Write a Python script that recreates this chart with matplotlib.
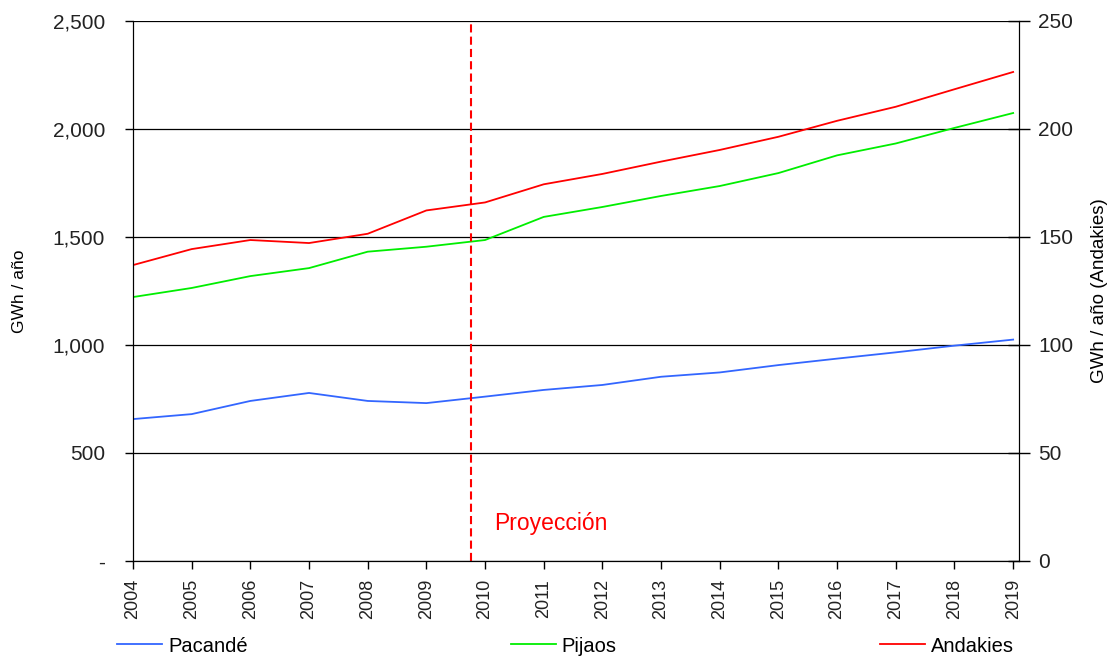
import numpy as np
import matplotlib
matplotlib.use("Agg")
import matplotlib.pyplot as plt
from matplotlib.ticker import FuncFormatter

plt.rcParams["font.family"] = ["Liberation Sans", "DejaVu Sans"]

# datos
anios = list(range(2004, 2020))
pacande = [657, 680, 741, 778, 741, 731, 761, 792, 815, 853, 873, 907, 937, 966, 997, 1025]
pijaos = [1222, 1264, 1319, 1356, 1432, 1455, 1486, 1593, 1639, 1690, 1736, 1796, 1878, 1933, 2005, 2074]
andakies = [137.0, 144.4, 148.6, 147.2, 151.5, 162.3, 166.0, 174.4, 179.2, 184.9, 190.3, 196.4, 203.8, 210.3, 218.4, 226.4]

inicio_proyeccion = 2009.76

fig = plt.figure(figsize=(11.08, 6.56), dpi=100)
ax = fig.add_axes([133 / 1108, 1 - 561 / 656, (1019 - 133) / 1108, (561 - 21) / 656])
ax2 = ax.twinx()

# líneas en eje izquierdo
l1, = ax.plot(anios, pacande, color="#3366ff", lw=1.3, label="Pacandé")
l2, = ax.plot(anios, pijaos, color="#00ee00", lw=1.3, label="Pijaos")
# Andakies en eje derecho
l3, = ax2.plot(anios, andakies, color="#ff0000", lw=1.3, label="Andakies")

ax.set_xlim(2004, 2019.1)
ax.set_ylim(0, 2500)
ax2.set_ylim(0, 250)

ax.set_yticks(np.arange(0, 2501, 500))
ax.yaxis.set_major_formatter(FuncFormatter(lambda v, p: "-" if v == 0 else f"{int(v):,}"))
ax2.set_yticks(np.arange(0, 251, 50))

ax.set_xticks(anios)
ax.set_xticklabels([str(a) for a in anios], rotation=90)

ax.grid(axis="y", color="black", lw=0.9)
ax.set_axisbelow(True)

for a in (ax, ax2):
    a.spines["top"].set_visible(False)
ax.tick_params(axis="y", labelsize=15, colors="black", labelcolor="#222222", length=6, width=1, pad=14)
ax.tick_params(axis="x", labelsize=13, colors="black", labelcolor="#222222", length=6, width=1, pad=7)
ax2.tick_params(axis="y", labelsize=15, labelcolor="#222222", direction="inout", length=16, width=1, pad=6)

# títulos de ejes
ax.set_ylabel("GWh / año", fontsize=12.5)
ax.yaxis.set_label_coords((27 - 133) / 886, 0.50)
ax2.set_ylabel("GWh / año (Andakies)", fontsize=13.5)
ax2.yaxis.set_label_coords((1091 - 133) / 886, 0.50)

# línea de proyección
ax.axvline(inicio_proyeccion, color="#ff0000", lw=1.5, ls=(0, (3.9, 2)), ymax=0.995)
ax.text(2010.15, 174, "Proyección", color="#ff0000", fontsize=16.5, va="center", ha="left")

# leyenda abajo
fig.legend(handles=[l1, l2, l3], loc="center left", bbox_to_anchor=(99 / 1108, 1 - 646 / 656),
           ncol=3, frameon=False, fontsize=14.5, handlelength=2.24, handletextpad=0.3,
           columnspacing=13.05)

fig.savefig("out.png", dpi=100)
